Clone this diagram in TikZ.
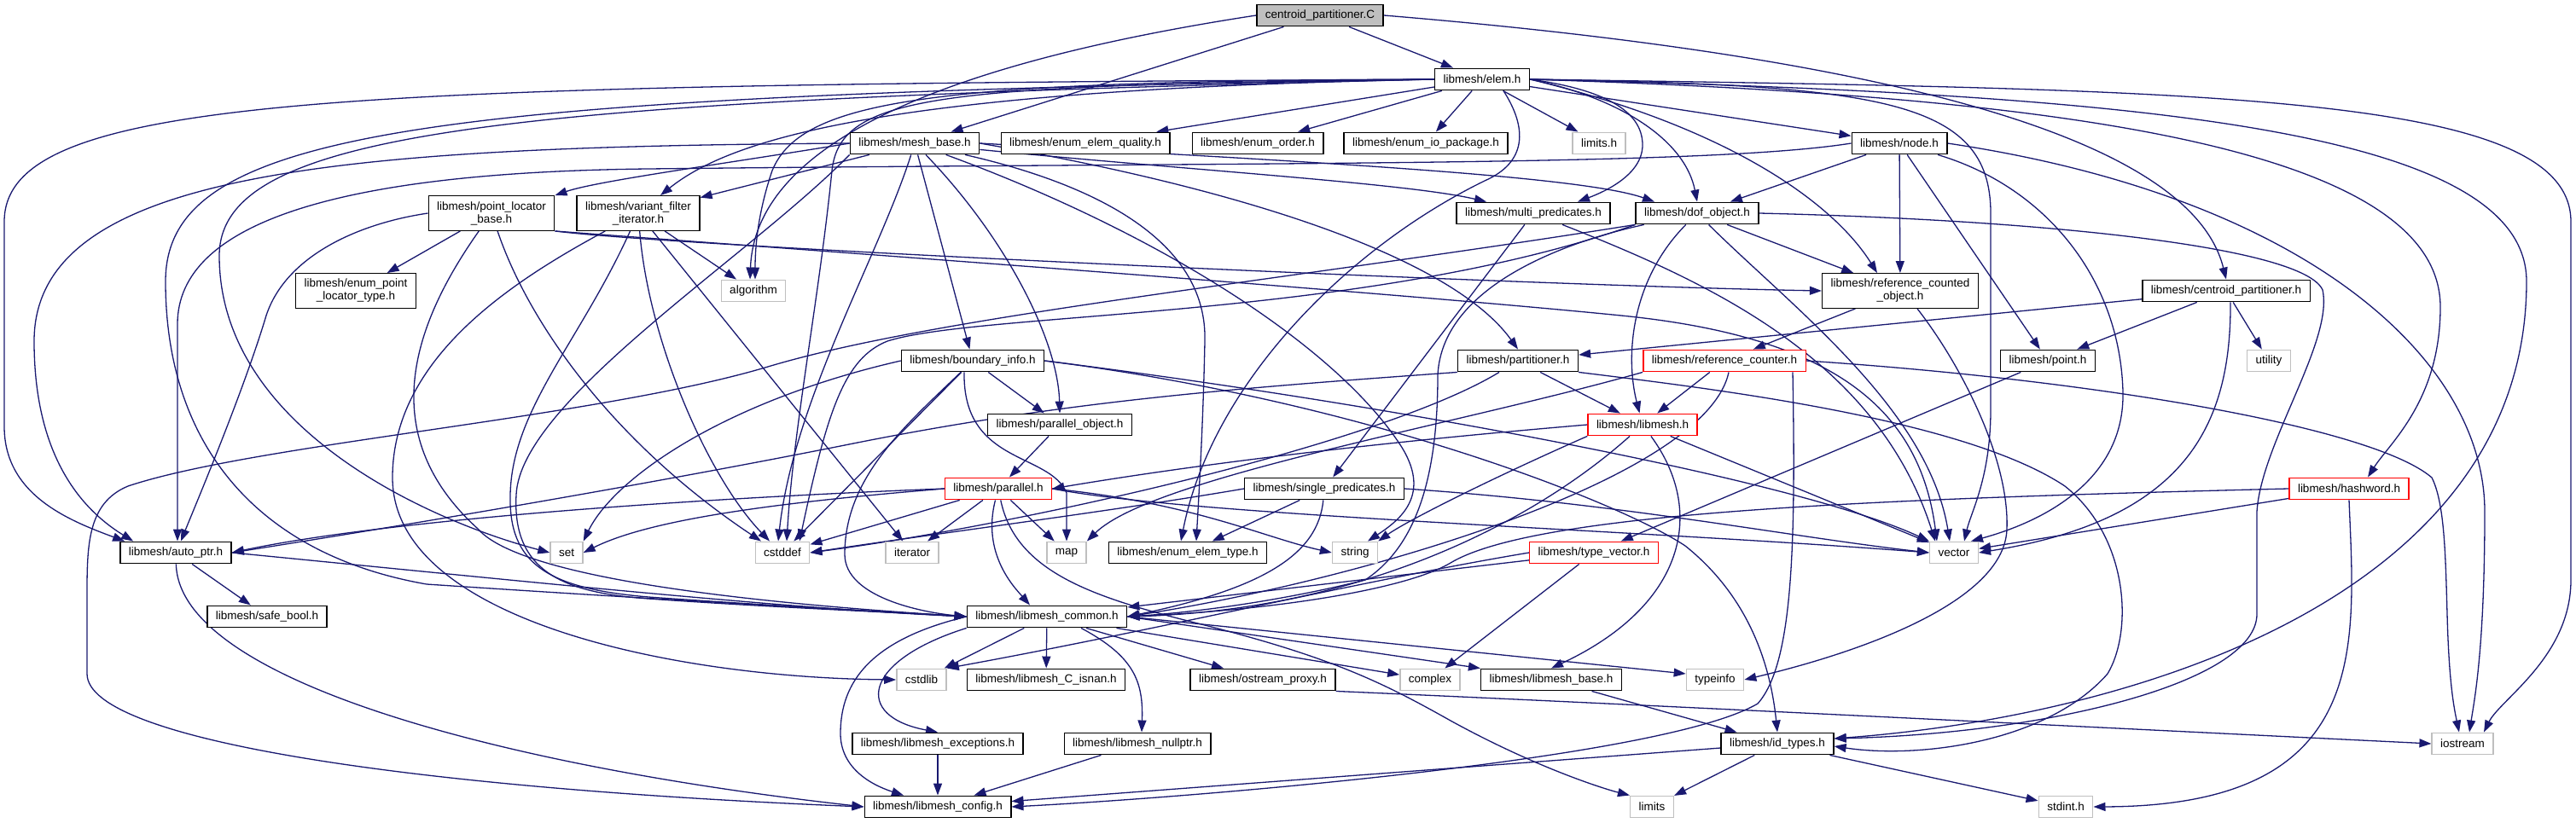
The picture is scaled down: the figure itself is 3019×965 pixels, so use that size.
\documentclass[tikz,border=0pt]{standalone}
\usepackage{fontspec}
\newfontfamily\lsans{Liberation Sans}
\usetikzlibrary{arrows.meta}
\pgfdeclarelayer{bg}
\pgfsetlayers{bg,main}
\definecolor{mblue}{HTML}{191970}
\definecolor{gfill}{HTML}{BFBFBF}
\definecolor{gline}{HTML}{BFBFBF}
\definecolor{rline}{HTML}{FF0000}
\tikzset{
  nd/.style={draw=black, fill=white, line width=1.4pt, inner xsep=10pt, inner ysep=0pt,
    minimum height=25.5pt, font=\lsans\fontsize{13.5pt}{15pt}\selectfont, align=center},
  nd2/.style={nd, minimum height=40.5pt},
  ext/.style={nd, draw=gline},
  rnd/.style={nd, draw=rline},
  gnd/.style={nd, fill=gfill},
  ed/.style={draw=mblue, line width=1.3pt, -{Triangle[length=14pt,width=10pt]}}
}
\begin{document}
\begin{tikzpicture}[x=1pt,y=-1pt]
\useasboundingbox (0,0) rectangle (3019,965);

% ---------- nodes ----------
\node[gnd] (cpC) at (1547,18) {centroid\_partitioner.C};
\node[nd] (elem) at (1737,93) {libmesh/elem.h};
\node[nd] (meshbase) at (1072,168) {libmesh/mesh\_base.h};
\node[nd] (eeq) at (1272,168) {libmesh/enum\_elem\_quality.h};
\node[nd] (eorder) at (1474,168) {libmesh/enum\_order.h};
\node[nd] (eio) at (1671,168) {libmesh/enum\_io\_package.h};
\node[ext] (limitsh) at (1874,168) {limits.h};
\node[nd] (node) at (2226,168) {libmesh/node.h};
\node[nd2] (plb) at (576,250) {libmesh/point\_locator\\\_base.h};
\node[nd2] (vfi) at (748,250) {libmesh/variant\_filter\\\_iterator.h};
\node[nd] (multi) at (1797,250) {libmesh/multi\_predicates.h};
\node[nd] (dof) at (1989,250) {libmesh/dof\_object.h};
\node[ext] (algorithm) at (883,341) {algorithm};
\node[nd2] (eplt) at (417,341) {libmesh/enum\_point\\\_locator\_type.h};
\node[nd2] (rco) at (2227,341) {libmesh/reference\_counted\\\_object.h};
\node[nd] (cph) at (2609,341) {libmesh/centroid\_partitioner.h};
\node[nd] (binfo) at (1140,423) {libmesh/boundary\_info.h};
\node[nd] (part) at (1779,423) {libmesh/partitioner.h};
\node[rnd] (refc) at (2021,423) {libmesh/reference\_counter.h};
\node[nd] (point) at (2400,423) {libmesh/point.h};
\node[ext] (utility) at (2659,423) {utility};
\node[nd] (pobj) at (1242,498) {libmesh/parallel\_object.h};
\node[rnd] (libmesh) at (1925,498) {libmesh/libmesh.h};
\node[rnd] (parallel) at (1170,573) {libmesh/parallel.h};
\node[nd] (single) at (1552,573) {libmesh/single\_predicates.h};
\node[rnd] (hashword) at (2753,573) {libmesh/hashword.h};
\node[nd] (autoptr) at (206,648) {libmesh/auto\_ptr.h};
\node[ext] (set) at (664,648) {set};
\node[ext] (cstddef) at (917,648) {cstddef};
\node[ext] (iterator) at (1069,648) {iterator};
\node[ext] (map) at (1250,648) {map};
\node[nd] (eet) at (1392,648) {libmesh/enum\_elem\_type.h};
\node[ext] (string) at (1588,648) {string};
\node[rnd] (typevec) at (1868,648) {libmesh/type\_vector.h};
\node[ext] (vector) at (2290,648) {vector};
\node[nd] (common) at (1227,723) {libmesh/libmesh\_common.h};
\node[nd] (safebool) at (313,723) {libmesh/safe\_bool.h};
\node[ext] (cstdlib) at (1080,797) {cstdlib};
\node[nd] (isnan) at (1226,797) {libmesh/libmesh\_C\_isnan.h};
\node[nd] (ostream) at (1480,797) {libmesh/ostream\_proxy.h};
\node[ext] (complex) at (1676,797) {complex};
\node[nd] (lbase) at (1818,797) {libmesh/libmesh\_base.h};
\node[ext] (typeinfo) at (2010,797) {typeinfo};
\node[ext] (iostream) at (2886,872) {iostream};
\node[nd] (exc) at (1099,872) {libmesh/libmesh\_exceptions.h};
\node[nd] (nullptr) at (1333,872) {libmesh/libmesh\_nullptr.h};
\node[nd] (idtypes) at (2083,872) {libmesh/id\_types.h};
\node[nd] (config) at (1099,946) {libmesh/libmesh\_config.h};
\node[ext] (limits) at (1936,946) {limits};
\node[ext] (stdint) at (2421,946) {stdint.h};

% ---------- edges ----------
\begin{pgfonlayer}{bg}
% centroid_partitioner.C
\draw[ed] (cpC) -- (elem);
\draw[ed] (cpC) -- (meshbase);
\draw[ed] (cpC.west) .. controls (1100,75) and (885,170) .. ([xshift=-4pt]algorithm.north);
\draw[ed] (cpC.east) .. controls (2250,70) and (2570,170) .. (cph.north);

% elem.h
\draw[ed] (elem) -- (eeq);
\draw[ed] (elem) -- (eorder);
\draw[ed] (elem) -- (eio);
\draw[ed] (elem) -- (limitsh);
\draw[ed] (elem) -- (node);
\draw[ed] (elem.east) .. controls (1880,105) and (1925,130) .. (1925,170) .. controls (1925,205) and (1880,225) .. ([xshift=52pt]multi.north);
\draw[ed] (elem.east) .. controls (1900,115) and (1975,165) .. (dof.north);
\draw[ed] (elem.east) .. controls (2030,150) and (2150,240) .. ([xshift=-27pt]rco.north);
\draw[ed] (elem.west) .. controls (1050,105) and (860,160) .. ([xshift=26pt]vfi.north);
\draw[ed] (elem.west) .. controls (1100,95) and (940,115) .. (905,200) .. controls (888,250) and (885,290) .. ([xshift=2pt]algorithm.north);
\draw[ed] (elem.west) .. controls (1100,100) and (985,110) .. (975,200) .. controls (960,350) and (930,500) .. ([xshift=5pt]cstddef.north);
\draw[ed] (elem.west) .. controls (400,100) and (5,110) .. (5,260) -- (5,500) .. controls (5,580) and (80,610) .. ([xshift=6pt]autoptr.north west);
\draw[ed] (elem.west) .. controls (600,118) and (257,150) .. (257,300) .. controls (257,500) and (500,610) .. (set.west);
\draw[ed] (elem.west) .. controls (500,112) and (194,150) .. (194,330) .. controls (194,520) and (300,650) .. (500,685) .. controls (800,705) and (1000,715) .. (common.west);
\draw[ed] ([xshift=25pt]elem.south) .. controls (1790,150) and (1790,190) .. (1740,212) .. controls (1580,290) and (1420,450) .. ([xshift=-8pt]eet.north);
\draw[ed] (elem.east) .. controls (2600,105) and (3013,110) .. (3013,260) -- (3013,680) .. controls (3013,770) and (2930,820) .. ([xshift=25pt]iostream.north);
\draw[ed] (elem.east) .. controls (2500,110) and (2961,150) .. (2961,330) .. controls (2961,700) and (2500,840) .. ([yshift=6pt]idtypes.east);
\draw[ed] (elem.east) .. controls (2400,112) and (2860,170) .. (2860,360) .. controls (2860,470) and (2800,520) .. ([xshift=22pt]hashword.north);
\draw[ed] (elem.east) .. controls (2200,100) and (2333,115) .. (2333,250) -- (2333,480) .. controls (2333,560) and (2310,600) .. ([xshift=12pt]vector.north);

% mesh_base.h
\draw[ed] (meshbase) -- (vfi);
\draw[ed] (meshbase.west) .. controls (850,192) and (700,212) .. (plb.north east);
\draw[ed] (meshbase.west) .. controls (400,172) and (40,200) .. (40,400) .. controls (40,540) and (100,600) .. ([xshift=16pt]autoptr.north west);
\draw[ed] (meshbase) .. controls (1030,300) and (930,470) .. ([xshift=-5pt]cstddef.north);
\draw[ed] (meshbase) -- (binfo);
\draw[ed] (meshbase) .. controls (1180,280) and (1240,400) .. (pobj.north);
\draw[ed] (meshbase) .. controls (1300,220) and (1415,290) .. (1412,400) .. controls (1410,500) and (1405,580) .. ([xshift=10pt]eet.north);
\draw[ed] (meshbase) .. controls (1400,200) and (1650,215) .. ([xshift=-55pt]multi.north);
\draw[ed] (meshbase.east) .. controls (1500,188) and (1850,205) .. ([xshift=-50pt]dof.north);
\draw[ed] (meshbase.east) .. controls (1450,220) and (1700,300) .. (part.north);
\draw[ed] (meshbase) .. controls (1350,270) and (1560,400) .. (1640,520) .. controls (1680,580) and (1640,610) .. ([xshift=15pt]string.north);
\draw[ed] (meshbase.south west) .. controls (880,300) and (610,470) .. (605,580) .. controls (600,670) and (660,695) .. (760,702) .. controls (900,712) and (1050,718) .. (common.west);

% point_locator_base.h
\draw[ed] (plb) -- (eplt);
\draw[ed] (plb.west) .. controls (420,262) and (335,300) .. (312,370) .. controls (285,460) and (230,590) .. ([xshift=6pt]autoptr.north);
\draw[ed] (plb) .. controls (470,400) and (450,520) .. (560,620) .. controls (620,690) and (1000,714) .. (common.west);
\draw[ed] (plb) .. controls (620,380) and (720,520) .. ([xshift=-25pt]cstddef.north);
\draw[ed] (plb.south east) .. controls (800,290) and (1800,335) .. (rco.west);
\draw[ed] (plb.south east) .. controls (900,290) and (1600,340) .. (1900,370) .. controls (2150,395) and (2250,480) .. ([xshift=-20pt]vector.north);

% variant_filter_iterator.h
\draw[ed] (vfi) -- (algorithm);
\draw[ed] (vfi) -- (iterator);
\draw[ed] (vfi) .. controls (600,330) and (460,420) .. (460,560) .. controls (460,730) and (800,795) .. (cstdlib.west);
\draw[ed] (vfi) .. controls (680,400) and (600,480) .. (598,580) .. controls (596,660) and (640,690) .. (760,700) .. controls (900,710) and (1050,718) .. (common.west);
\draw[ed] (vfi) .. controls (760,400) and (830,560) .. ([xshift=-15pt]cstddef.north);

% multi_predicates.h
\draw[ed] (multi) -- (single);
\draw[ed] (multi) .. controls (2000,330) and (2200,420) .. ([xshift=-22pt]vector.north);

% dof_object.h
\draw[ed] (dof) -- (rco);
\draw[ed] (dof) .. controls (1910,330) and (1905,420) .. (libmesh);
\draw[ed] (dof) .. controls (2100,360) and (2260,480) .. ([xshift=-5pt]vector.north);
\draw[ed] (dof.east) .. controls (2400,258) and (2700,290) .. (2722,340) .. controls (2735,400) and (2650,520) .. (2645,600) -- (2645,720) .. controls (2645,800) and (2400,860) .. ([yshift=6pt]idtypes.east);
\draw[ed] (dof) .. controls (1850,280) and (1690,330) .. (1685,440) .. controls (1685,560) and (1660,640) .. (1600,680) .. controls (1500,705) and (1400,718) .. (common.east);
\draw[ed] (dof.south west) .. controls (1600,375) and (1150,365) .. (1040,400) .. controls (990,420) and (970,480) .. ([xshift=20pt]cstddef.north);
\draw[ed] (dof.south west) .. controls (1500,330) and (1100,370) .. (900,430) .. controls (700,490) and (300,520) .. (150,570) .. controls (102,590) and (102,640) .. (102,700) -- (102,790) .. controls (102,870) and (500,925) .. (config.west);

% node.h
\draw[ed] (node) -- (dof);
\draw[ed] (node) -- (rco);
\draw[ed] (node) -- (point);
\draw[ed] (node) .. controls (2400,220) and (2485,330) .. (2488,460) .. controls (2490,560) and (2400,610) .. ([xshift=20pt]vector.north);
\draw[ed] (node.east) .. controls (2700,230) and (2912,420) .. (2912,600) .. controls (2912,760) and (2900,820) .. ([xshift=8pt]iostream.north);
\draw[ed] (node.west) .. controls (2000,195) and (1500,190) .. (760,198) .. controls (400,202) and (208,260) .. (208,380) -- ([xshift=2pt]autoptr.north);

% point.h
\draw[ed] (point) -- (typevec);

% reference_counted_object.h
\draw[ed] (rco) -- (refc);
\draw[ed] ([xshift=20pt]rco.south) .. controls (2300,430) and (2355,540) .. (2352,620) .. controls (2350,700) and (2200,760) .. (typeinfo.east);

% centroid_partitioner.h
\draw[ed] (cph) -- (part);
\draw[ed] (cph) -- (point);
\draw[ed] (cph) -- (utility);
\draw[ed] ([xshift=5pt]cph.south) .. controls (2615,500) and (2560,610) .. (vector.east);

% reference_counter.h
\draw[ed] (refc) -- (libmesh);
\draw[ed] ([xshift=5pt]refc.south) .. controls (2000,560) and (1600,680) .. (common.east);
\draw[ed] (refc.south west) .. controls (1700,500) and (1350,560) .. (map.north east);
\draw[ed] (refc.east) .. controls (2450,445) and (2780,500) .. (2850,560) .. controls (2865,590) and (2866,650) .. (2868,720) .. controls (2870,800) and (2876,830) .. ([xshift=-4pt]iostream.north);
\draw[ed] ([xshift=80pt]refc.south) .. controls (2105,650) and (2100,780) .. (2060,825) .. controls (1950,890) and (1400,935) .. (config.east);

% partitioner.h
\draw[ed] (part) -- (libmesh);
\draw[ed] (part.south west) .. controls (1450,455) and (1250,470) .. (1000,520) .. controls (750,570) and (450,620) .. (autoptr.east);
\draw[ed] (part) .. controls (1620,520) and (1200,615) .. (cstddef.east);
\draw[ed] (part.south east) .. controls (2000,455) and (2300,490) .. (2420,570) .. controls (2495,630) and (2500,740) .. (2470,790) .. controls (2400,870) and (2250,890) .. ([yshift=-3pt]idtypes.east);

% boundary_info.h
\draw[ed] (binfo) -- (pobj);
\draw[ed] ([xshift=-10pt]binfo.south) .. controls (1128,545) and (1230,530) .. (1250,578) -- (map.north);
\draw[ed] (binfo.west) .. controls (850,470) and (720,560) .. (set.north east);
\draw[ed] (binfo) -- (cstddef);
\draw[ed] (binfo) .. controls (1060,500) and (990,560) .. (990,650) .. controls (990,700) and (1080,718) .. (common.west);
\draw[ed] (binfo.east) .. controls (1600,470) and (2100,560) .. (vector.north west);
\draw[ed] (binfo.east) .. controls (1600,470) and (1900,590) .. (1975,640) .. controls (2050,700) and (2075,780) .. (idtypes.north);

% parallel_object.h
\draw[ed] (pobj) -- (parallel);

% parallel.h
\draw[ed] (parallel) .. controls (1150,650) and (1190,690) .. ([xshift=-20pt]common.north);
\draw[ed] (parallel) -- (cstddef);
\draw[ed] (parallel) -- (iterator);
\draw[ed] (parallel) -- (map);
\draw[ed] (parallel) .. controls (1190,670) and (1280,700) .. (1400,730) .. controls (1560,770) and (1620,800) .. (1700,845) .. controls (1800,900) and (1880,925) .. (limits.north west);
\draw[ed] (parallel.west) .. controls (900,590) and (760,610) .. (set.east);
\draw[ed] (parallel.west) .. controls (800,585) and (450,610) .. (autoptr.east);
\draw[ed] (parallel.east) .. controls (1400,590) and (1480,630) .. (string.west);
\draw[ed] (parallel.east) .. controls (1400,605) and (1900,620) .. (vector.west);

% libmesh.h
\draw[ed] (libmesh.west) .. controls (1600,520) and (1400,545) .. (parallel.east);
\draw[ed] (libmesh) .. controls (1800,610) and (1600,715) .. (common.east);
\draw[ed] (libmesh) .. controls (2000,600) and (1975,710) .. (lbase.north);
\draw[ed] (libmesh.south west) .. controls (1750,560) and (1650,610) .. (string.north east);
\draw[ed] (libmesh) -- (vector);

% single_predicates.h
\draw[ed] (single) -- (eet);
\draw[ed] (single) .. controls (1545,650) and (1480,690) .. (common.east);
\draw[ed] (single.west) .. controls (1300,600) and (1100,625) .. (cstddef.east);
\draw[ed] (single.east) .. controls (1900,590) and (2100,630) .. (vector.west);

% type_vector.h
\draw[ed] (typevec) -- (complex);
\draw[ed] (typevec) -- (common);
\draw[ed] (typevec.west) .. controls (1600,680) and (1350,740) .. (cstdlib.north east);

% hashword.h
\draw[ed] (hashword) -- (vector);
\draw[ed] (hashword.south) .. controls (2760,760) and (2780,945) .. (stdint.east);
\draw[ed] (hashword.west) .. controls (2200,585) and (1800,600) .. (1700,660) .. controls (1650,690) and (1500,715) .. (common.east);

% auto_ptr.h
\draw[ed] (autoptr) -- (safebool);
\draw[ed] (autoptr.east) .. controls (600,680) and (900,712) .. (common.west);
\draw[ed] (autoptr) .. controls (210,800) and (600,900) .. (config.west);

% libmesh_common.h
\draw[ed] (common.west) .. controls (1020,750) and (985,800) .. (985,860) .. controls (985,900) and (1020,920) .. ([xshift=-40pt]config.north);
\draw[ed] (common) -- (cstdlib);
\draw[ed] (common) -- (isnan);
\draw[ed] (common) -- (ostream);
\draw[ed] (common.south west) .. controls (1010,775) and (1000,840) .. (exc.north);
\draw[ed] ([xshift=40pt]common.south) .. controls (1330,770) and (1340,800) .. ([xshift=5pt]nullptr.north);
\draw[ed] (common) -- (complex);
\draw[ed] (common.east) -- (lbase.north west);
\draw[ed] (common.east) -- ([yshift=7pt]typeinfo.west);

% rest
\draw[ed] (exc) -- (config);
\draw[ed] (nullptr) -- (config);
\draw[ed] (ostream.south east) .. controls (1900,825) and (2500,855) .. (iostream.west);
\draw[ed] (lbase) -- (idtypes);
\draw[ed] (idtypes) -- (config);
\draw[ed] (idtypes) -- (limits);
\draw[ed] (idtypes) -- (stdint);
\end{pgfonlayer}
\end{tikzpicture}
\end{document}
